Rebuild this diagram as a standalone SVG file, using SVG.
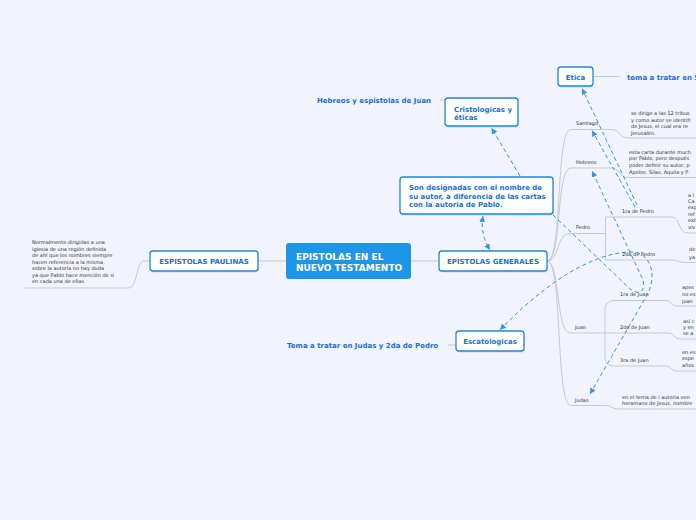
<svg xmlns="http://www.w3.org/2000/svg" width="696" height="520" viewBox="0 0 696 520">
<defs>
<style>
.bt{font-family:"DejaVu Sans",Verdana,sans-serif;font-weight:bold;font-size:7px;fill:#1a6fd2}
.lbl{font-family:"DejaVu Sans",Verdana,sans-serif;font-size:5px;fill:#333}
.box{fill:#fff;stroke:#1f86e0;stroke-width:1.3}
.sh{fill:#1f5fa8;fill-opacity:0.18}
.tree{fill:none;stroke:#c6c9cf;stroke-width:1}
.rel{fill:none;stroke:#3b8ee6;stroke-width:1;stroke-dasharray:4 3}
.ct{font-family:"DejaVu Sans",Verdana,sans-serif;font-weight:bold;font-size:9px;fill:#fff}
</style>
<marker id="ar" viewBox="0 0 6 6" refX="6" refY="3" markerWidth="6" markerHeight="6" markerUnits="userSpaceOnUse" orient="auto-start-reverse">
<path d="M0,0 L6,3 L0,6 z" fill="#3b8ee6"/>
</marker>
</defs>
<rect width="696" height="520" fill="#f1f4fc"/>

<g id="connectors">
<path class="tree" d="M258,261 L286,261 M411,261 L439,261" stroke-width="1.5"/>
<path class="tree" d="M150,261 L144,261 C136,261 138,288 128,288 L25,288"/>
<path class="tree" d="M593,76.5 L620,76.5 M440,100 L445,100 M448,345 L456,345"/>
<path class="tree" d="M547,261 C563,261 555,129.5 571,129.5 L612,129.5 C620,129.5 619,138 628,138 L696,138"/>
<path class="tree" d="M547,261 C563,261 555,168 571,168 L612,168 C620,168 619,177.5 628,177.5 L696,177.5"/>
<path class="tree" d="M547,261 C560,261 556,233.5 570,233.5 L605.5,233.5"/>
<path class="tree" d="M672,217 L605.5,217 L605.5,260 L672,260 M672,217 C680,217 678,233 688,233 L696,233 M672,260 C678,260 678,262.5 686,262.5 L696,262.5"/>
<path class="tree" d="M547,261 C560,261 556,333 570,333 L605,333"/>
<path class="tree" d="M665,300.5 L614,300.5 Q605,300.5 605,310 L605,357 Q605,366 614,366 L665,366 M605,333 L668,333 M665,300.5 C672,300.5 670,306 678,306 L696,306 M668,333 C675,333 673,339 681,339 L696,339 M665,366 C672,366 670,371 678,371 L696,371"/>
<path class="tree" d="M547,261 C563,261 555,405.5 571,405.5 L605,405.5 C612,405.5 611,409 619,409 L696,409"/>

<path class="rel" d="M520,176 L491.5,128" marker-end="url(#ar)"/>
<path class="rel" d="M483,216 Q480,234 490,250" marker-start="url(#ar)" marker-end="url(#ar)"/>
<path class="rel" d="M553,215 L628,287 C636,295 646,295 643,280 L592,171" marker-end="url(#ar)"/>
<path class="rel" d="M637,205 L582,88.5" marker-end="url(#ar)"/>
<path class="rel" d="M635,207 L592,130.5" marker-end="url(#ar)"/>
<path class="rel" d="M500,330 C540,288 590,252 632,252 C652,252 657,278 647,295 L590,394" marker-start="url(#ar)" marker-end="url(#ar)"/>
</g>

<g id="central">
<rect x="286" y="243" width="125" height="36" rx="3" fill="#1e96e8"/>
<text class="ct" x="296" y="259.5">EPISTOLAS EN EL</text>
<text class="ct" x="296" y="270.5">NUEVO TESTAMENTO</text>
</g>

<g id="paulinas">
<rect class="sh" x="151" y="252.5" width="108" height="20" rx="3"/>
<rect class="box" x="150" y="251" width="108" height="20" rx="3"/>
<text class="bt" x="204" y="263.5" text-anchor="middle">ESPISTOLAS PAULINAS</text>
</g>

<g id="paulinas-text">
<text class="lbl" x="32" y="244">Normalmente dirigidas a una</text>
<text class="lbl" x="32" y="250.5">iglesia de una región definida</text>
<text class="lbl" x="32" y="257">de ahí que los nombres siempre</text>
<text class="lbl" x="32" y="263.5">hacen referencia a la misma,</text>
<text class="lbl" x="32" y="270">sobre la autoría no hay duda</text>
<text class="lbl" x="32" y="276.5">ya que Pablo hace mención de si</text>
<text class="lbl" x="32" y="283">en cada una de ellas.</text>
</g>

<g id="generales">
<rect class="sh" x="440" y="252.5" width="108" height="20" rx="3"/>
<rect class="box" x="439" y="251" width="108" height="20" rx="3"/>
<text class="bt" x="493" y="263.5" text-anchor="middle">EPISTOLAS GENERALES</text>
</g>

<g id="designadas">
<rect class="sh" x="401" y="178.5" width="153" height="37" rx="3"/>
<rect class="box" x="400" y="177" width="153" height="37" rx="3"/>
<text class="bt" x="409" y="189.8">Son designadas con el nombre de</text>
<text class="bt" x="409" y="198.5">su autor, a diferencia de las cartas</text>
<text class="bt" x="409" y="206.8">con la autoria de Pablo.</text>
</g>

<g id="cristologicas">
<rect class="sh" x="446" y="99.5" width="73" height="28" rx="3"/>
<rect class="box" x="445" y="98" width="73" height="28" rx="3"/>
<text class="bt" x="454" y="111.5">Cristologicas y</text>
<text class="bt" x="454" y="119.5">éticas</text>
</g>
<g id="hebreos-juan"><text class="bt" x="317" y="102.5">Hebreos y espistolas de Juan</text></g>

<g id="etica">
<rect class="sh" x="559" y="68.5" width="34" height="19" rx="3"/>
<rect class="box" x="558" y="67" width="35" height="19" rx="3"/>
<text class="bt" x="575.5" y="79.5" text-anchor="middle">Etica</text>
</g>
<g id="etica-tema"><text class="bt" x="627" y="79.5">tema a tratar en S</text></g>

<g id="escatologicas">
<rect class="sh" x="457" y="332.5" width="68" height="20" rx="3"/>
<rect class="box" x="456" y="331" width="68" height="20" rx="3"/>
<text class="bt" x="490" y="343.5" text-anchor="middle">Escatologicas</text>
</g>
<g id="escat-tema"><text class="bt" x="287" y="347.5">Tema a tratar en Judas y 2da de Pedro</text></g>

<g id="santiago">
<text class="lbl" x="576" y="124.5">Santiago</text>
<text class="lbl" x="631" y="115">se dirige a las 12 tribus</text>
<text class="lbl" x="631" y="121.5">y como autor se identifi</text>
<text class="lbl" x="631" y="128">de Jesus, el cual era re</text>
<text class="lbl" x="631" y="134.5">Jerusalén.</text>
</g>

<g id="hebreos">
<text class="lbl" x="576" y="163.5">Hebreos</text>
<text class="lbl" x="629" y="153.5">esta carta durante much</text>
<text class="lbl" x="629" y="160">por Pablo, pero después</text>
<text class="lbl" x="629" y="167">poder definir su autor, p</text>
<text class="lbl" x="629" y="174">Apolos, Silas, Aquila y P</text>
</g>

<g id="pedro">
<text class="lbl" x="576" y="228.5">Pedro</text>
<text class="lbl" x="622" y="213">1ra de Pedro</text>
<text class="lbl" x="622" y="256">2da de Pedro</text>
<text class="lbl" x="688" y="196.5">a l</text>
<text class="lbl" x="688" y="203">Ca</text>
<text class="lbl" x="688" y="209">exp</text>
<text class="lbl" x="688" y="215.5">ref</text>
<text class="lbl" x="688" y="222">ext</text>
<text class="lbl" x="688" y="228.5">viv</text>
<text class="lbl" x="689" y="251">de</text>
<text class="lbl" x="689" y="258.5">ya</text>
</g>

<g id="juan">
<text class="lbl" x="575" y="328.5">Juan</text>
<text class="lbl" x="620" y="296">1ra de Juan</text>
<text class="lbl" x="620" y="329">2da de Juan</text>
<text class="lbl" x="620" y="362">3ra de Juan</text>
<text class="lbl" x="682" y="289">apes</text>
<text class="lbl" x="682" y="296">no es</text>
<text class="lbl" x="682" y="303">juan</text>
<text class="lbl" x="683" y="323">así c</text>
<text class="lbl" x="683" y="329">y en</text>
<text class="lbl" x="683" y="335">se a</text>
<text class="lbl" x="682" y="354">en es</text>
<text class="lbl" x="682" y="360">espe</text>
<text class="lbl" x="682" y="367">años</text>
</g>

<g id="judas">
<text class="lbl" x="575" y="402">Judas</text>
<text class="lbl" x="622" y="398.5">en el tema de l autoria ven</text>
<text class="lbl" x="622" y="404.5">heramano de Jesus, nombre</text>
</g>
</svg>
